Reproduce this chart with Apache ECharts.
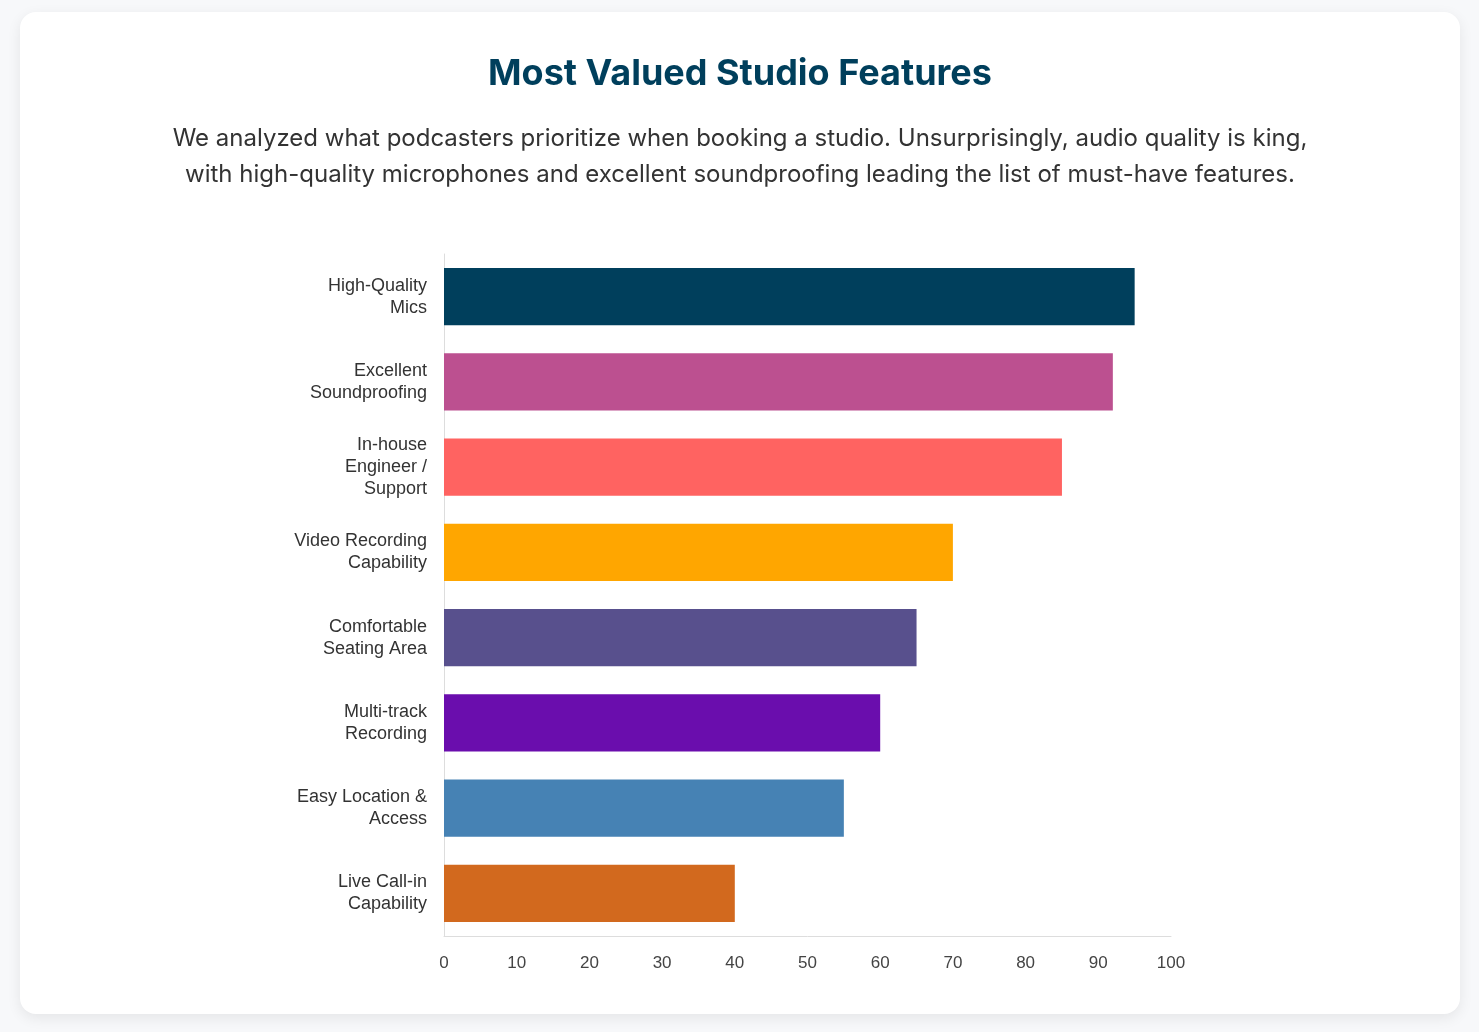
<!DOCTYPE html>
<html>
<head>
<meta charset="utf-8">
<script src="https://cdn.jsdelivr.net/npm/echarts@6/dist/echarts.min.js"></script>
<style>
  html, body { margin:0; padding:0; background:#f7f8fa; width:1479px; height:1032px; overflow:hidden; }
  #card { position:absolute; left:20px; top:12px; width:1440px; height:1002px; background:#fff; border-radius:16px; box-shadow:0 4px 14px rgba(0,0,0,0.08); }
  #title { position:absolute; left:0; width:1440px; top:36px; text-align:center; font-family:Inter, sans-serif; font-weight:700; font-size:36px; line-height:48px; color:#003f5c; margin:0; }
  #sub { position:absolute; left:0; width:1440px; top:108px; text-align:center; font-family:Inter, sans-serif; font-size:24px; line-height:36px; color:#333; margin:0; }
  #chart { position:absolute; left:0; top:0; width:1440px; height:1002px; }
</style>
</head>
<body>
<div id="card">
  <div id="chart"></div>
  <h1 id="title">Most Valued Studio Features</h1>
  <p id="sub">We analyzed what podcasters prioritize when booking a studio. Unsurprisingly, audio quality is king,<br>with high-quality microphones and excellent soundproofing leading the list of must-have features.</p>
</div>
<script>
const categories = [
  "High-Quality\nMics",
  "Excellent\nSoundproofing",
  "In-house\nEngineer /\nSupport",
  "Video Recording\nCapability",
  "Comfortable\nSeating Area",
  "Multi-track\nRecording",
  "Easy Location &\nAccess",
  "Live Call-in\nCapability"
];
const values = [95, 92, 85, 70, 65, 60, 55, 40];
const colors = ["#003f5c", "#bc5090", "#ff6361", "#ffa600", "#58508d", "#6a0dad", "#4682b4", "#d2691e"];
const xTicks = { min: 0, max: 100, interval: 10 };

const chart = echarts.init(document.getElementById('chart'), null, { renderer: 'canvas' });
chart.setOption({
  animation: false,
  grid: { left: 424, right: 289, top: 242, bottom: 78 },
  xAxis: {
    type: 'value', min: xTicks.min, max: xTicks.max, interval: xTicks.interval,
    splitLine: { show: false },
    axisLine: { show: true, lineStyle: { color: '#dddddd', width: 1 } },
    axisTick: { show: false },
    axisLabel: { color: '#444', fontSize: 17, fontFamily: 'Liberation Sans, Arial, sans-serif', margin: 19 }
  },
  yAxis: {
    type: 'category', data: categories, inverse: true,
    axisLine: { show: true, lineStyle: { color: '#dddddd', width: 1 } },
    axisTick: { show: false },
    axisLabel: { color: '#333', fontSize: 18, lineHeight: 22, fontFamily: 'Liberation Sans, Arial, sans-serif', margin: 17, align: 'right' }
  },
  series: [{
    type: 'bar',
    data: values.map((v, i) => ({ value: v, itemStyle: { color: colors[i] } })),
    barCategoryGap: '33%'
  }]
});
</script>
</body>
</html>
